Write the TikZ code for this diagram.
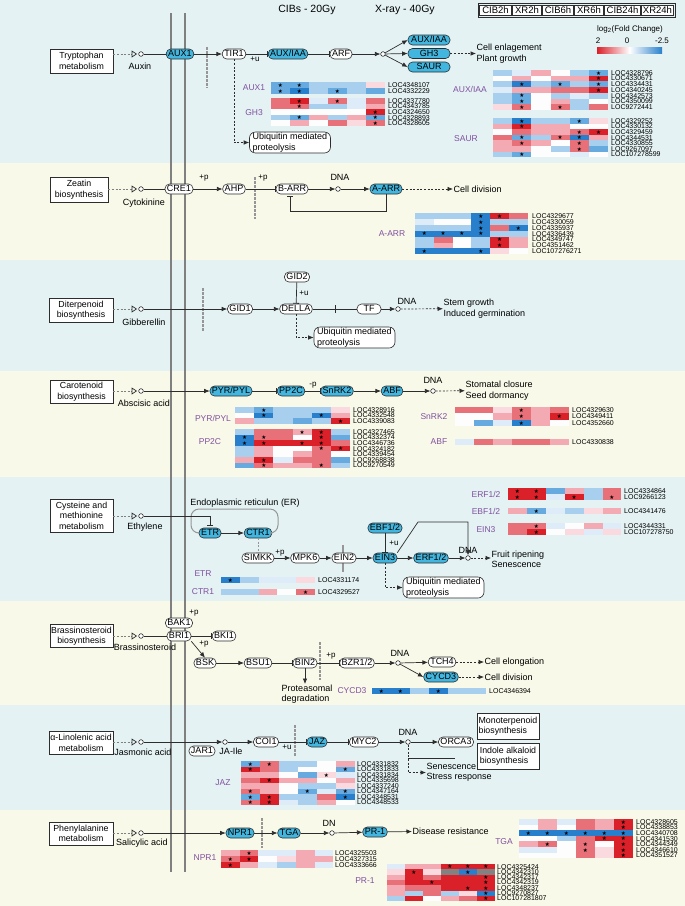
\documentclass[tikz,border=0pt]{standalone}
\usepackage{fontspec}
\setmainfont{Liberation Sans}
\newfontfamily\djv{DejaVu Sans}
\usetikzlibrary{arrows.meta,calc}
\definecolor{bgc}{RGB}{228,242,243}
\definecolor{bgy}{RGB}{248,249,232}
\definecolor{cy}{RGB}{66,182,222}
\definecolor{lc}{RGB}{45,45,45}
\definecolor{pur}{RGB}{128,80,160}
\definecolor{mg}{RGB}{150,150,150}
\definecolor{vg}{RGB}{128,128,128}
\definecolor{r3}{RGB}{218,32,40}
\definecolor{r2}{RGB}{232,112,120}
\definecolor{r1}{RGB}{243,170,178}
\definecolor{r0}{RGB}{250,218,222}
\definecolor{w}{RGB}{253,253,253}
\definecolor{b0}{RGB}{222,235,248}
\definecolor{b1}{RGB}{168,207,238}
\definecolor{b2}{RGB}{102,170,224}
\definecolor{b3}{RGB}{40,128,204}
\definecolor{gy}{RGB}{130,130,130}
\colorlet{R3}{r3}\colorlet{R2}{r2}\colorlet{R1}{r1}\colorlet{R0}{r0}
\colorlet{B3}{b3}\colorlet{B2}{b2}\colorlet{B1}{b1}\colorlet{B0}{b0}
\newcommand\mkst[1]{\expandafter\def\csname hs@#1\endcsname{}}
\mkst{R3}\mkst{R2}\mkst{R1}\mkst{R0}\mkst{B3}\mkst{B2}\mkst{B1}\mkst{B0}
\newcommand\fN{\fontsize{9}{10.5}\selectfont}
\newcommand\fB{\fontsize{8.8}{10.5}\selectfont}
\newcommand\fL{\fontsize{7}{7}\selectfont}
\newcommand\fP{\fontsize{8.5}{9}\selectfont}
\newcommand\fS{\fontsize{8}{9}\selectfont}
\tikzset{
 gene/.style={draw=lc, line width=0.6pt, rounded corners=4.5pt, fill=white, font=\fN, inner xsep=2pt, inner ysep=1pt, text height=6.6pt, text depth=1.4pt},
 cgene/.style={gene, fill=cy},
 pbox/.style={draw=lc, line width=0.6pt, fill=white, font=\fB, align=center, inner sep=1pt},
 ubi/.style={draw=lc, line width=0.6pt, rounded corners=6pt, fill=white, font=\fN, align=left, minimum width=81pt, minimum height=21pt, inner xsep=2pt, inner ysep=1pt},
 dot/.style={circle, draw=lc, line width=0.6pt, fill=white, minimum size=4.6pt, inner sep=0},
 lab/.style={font=\fN, inner sep=0.5pt},
 small/.style={font=\fS, inner sep=0},
 plab/.style={font=\fP, text=pur, inner sep=0},
 loc/.style={font=\fL, inner sep=0, anchor=west},
 ttl/.style={font=\fontsize{10.5}{12}\selectfont, inner sep=0},
 hdr/.style={draw=lc, line width=0.5pt, font=\fontsize{9.5}{10}\selectfont, inner sep=0, minimum height=10pt, fill=white},
 starn/.style={font={\djv\fontsize{5.6}{5.6}\selectfont}, inner sep=0, text=black},
 con/.style={draw=lc, line width=0.7pt},
 act/.style={con, -{Latex[length=5.5pt,width=4.6pt]}},
 inh/.style={con, -{Bar[width=6pt,line width=0.8pt]}},
 dsh/.style={con, dash pattern=on 2pt off 1.6pt},
 dact/.style={dsh, -{Latex[length=5.5pt,width=4.6pt]}},
 sig/.style={draw=vg, line width=0.7pt, dash pattern=on 2pt off 1.6pt, -{Triangle[open,length=5.5pt,width=7pt,line width=0.7pt,color=lc]}, shorten >=1.3pt},
 memb/.style={draw=mg, line width=1.6pt, dash pattern=on 2.5pt off 1.5pt},
 vline/.style={draw=vg, line width=1.3pt},
}
% heatmap: x, ytop, cellw, cellh, labelx, rows, labels
\newcommand\hmap[7]{%
  \foreach \rw [count=\ii] in {#6} {%
    \foreach \cc [count=\jj] in \rw {%
      \fill[\cc] ({#1+(\jj-1)*#3},{#2+(\ii-1)*#4}) rectangle ++({#3+0.05},{#4+0.05});
      \ifcsname hs@\cc\endcsname
        \node[starn] at ({#1+(\jj-0.5)*#3},{#2+(\ii-0.5)*#4+0.3}) {★};
      \fi
    }%
  }%
  \foreach \lab [count=\ii] in {#7} {%
    \node[loc] at (#5,{#2+(\ii-0.5)*#4}) {\lab};
  }%
}
\begin{document}
\begin{tikzpicture}[x=1pt,y=-1pt]
\useasboundingbox (0,0) rectangle (685,906);
% bands
\fill[bgc] (0,0) rectangle (685,163);
\fill[bgy] (0,163) rectangle (685,260);
\fill[bgc] (0,260) rectangle (685,371);
\fill[bgy] (0,371) rectangle (685,477);
\fill[bgc] (0,477) rectangle (685,601);
\fill[bgy] (0,601) rectangle (685,705);
\fill[bgc] (0,705) rectangle (685,810);
\fill[bgy] (0,810) rectangle (685,906);
% membrane lines
\draw[vline] (171,13) -- (171,872);
\draw[vline] (185,13) -- (185,872);
% header
\node[ttl] (t1) at (307,10) {CIBs - 20Gy};
\node[ttl] (t2) at (405,10) {X-ray - 40Gy};
\draw[lc, line width=0.6pt] (478,3) rectangle (675,17);
\foreach \a/\b/\t [count=\k] in {479/512/CIB2h, 512/542/XR2h, 542/574/CIB6h, 574/604/XR6h, 604/641/CIB24h, 641/674/XR24h}
  \node[hdr, minimum width={\b-\a-1.2}] (h\k) at ({(\a+\b)/2},10) {\t};
% legend
\node[small] (lg) at (630,29) {log\textsubscript{2}(Fold Change)};
\node[small] (lg2) at (598,41) {2};
\node[small] (lg0) at (627,41) {0};
\node[small] (lg25) at (662,41) {-2.5};
\shade[left color=r3, right color=b3, middle color=white] (597,47) rectangle (662,53);

% ===== Band 1: Tryptophan
\node[pbox, minimum width=63, minimum height=24] (trp) at (81.5,61) {Tryptophan\\metabolism};
\node[dot] (c1) at (141,54) {};
\node[lab] (auxin) at (140,66) {Auxin};
\draw[memb] (207,47) -- (207,88);
\node[cgene] (aux1) at (180,54) {AUX1};
\node[gene] (tir1) at (234,54) {TIR1};
\node[small] (u1) at (255,59) {+u};
\node[cgene] (auxiaa) at (288,54) {AUX/IAA};
\node[gene] (arf) at (341,54) {ARF};
\node[dot] (d1) at (383,54) {};
\node[cgene, minimum width=42] (tauxiaa) at (429,40) {AUX/IAA};
\node[cgene, minimum width=42] (tgh3) at (429,53.5) {GH3};
\node[cgene, minimum width=42] (tsaur) at (429,67) {SAUR};
\node[lab, anchor=west, align=left] (o1) at (476,53.5) {Cell enlagement\\Plant growth};
\node[ubi] (ub1) at (290,142.5) {Ubiquitin mediated\\proteolysis};
\draw[sig] (trp.east |- c1) -- (c1);
\draw[con] (c1) -- (aux1);
\draw[act] (aux1) -- (tir1);
\draw[inh] (tir1) -- (auxiaa);
\draw[inh] (auxiaa) -- (arf);
\draw[act] (arf) -- (d1);
\draw[act] (d1) -- (tauxiaa.west);
\draw[act] (d1) -- (tgh3.west);
\draw[act] (d1) -- (tsaur.west);
\draw[dact] (tgh3) -- (o1);
\draw[dact] (tir1.south) |- (ub1.west);
\node[plab] (pl-aux1) at (254,88) {AUX1};
\node[plab] (pl-gh3) at (254,113) {GH3};
\hmap{271}{82}{19}{6}{388}{{B2,B2,b1,b1,b1,r0},{B2,B3,b1,B2,b1,b2}}{LOC4348107,LOC4332229}
\hmap{271}{98}{19}{5.6}{388}{{r2,R3,b0,R2,b0,r2},{r2,R2,b1,b1,b0,r1},{w,w,w,w,w,R3},{b1,B2,r1,b1,r1,B2},{w,r1,w,r2,r0,R2}}{LOC4337780,LOC4343785,LOC4324650,LOC4328893,LOC4328605}
\node[plab] (pl-auxiaa) at (470,89) {AUX/IAA};
\hmap{493}{70}{19.2}{5.7}{611}{{b1,b0,r1,w,b1,B2},{w,r1,w,r1,r1,R3},{b1,B3,b1,B2,b1,B2},{b0,r1,r1,r2,r2,R3},{b1,B2,w,b1,b0,b1},{b1,B2,w,r1,b1,w},{r0,R2,w,R2,b1,r2}}{LOC4328796,LOC4330671,LOC4334431,LOC4340245,LOC4342573,LOC4350099,LOC9272441}
\node[plab] (pl-saur) at (466,139) {SAUR};
\hmap{493}{118}{19.2}{5.6}{611}{{b1,B3,b1,b1,B2,r0},{r1,R3,r1,r1,w,w},{w,r2,r1,r1,R2,R3},{r2,B2,b1,R2,B3,r1},{r1,R2,r1,w,R2,b1},{r1,r1,w,b1,R2,b2},{b1,B2,w,w,b0,w}}{LOC4329252,LOC4330132,LOC4329459,LOC4344531,LOC4330855,LOC9267097,LOC107278599}

% ===== Band 2: Zeatin
\node[pbox, minimum width=58, minimum height=25] (zea) at (79,189.5) {Zeatin\\biosynthesis};
\node[dot] (c2) at (141,189) {};
\node[lab] (cyto) at (144,203) {Cytokinine};
\draw[memb] (255,177) -- (255,219);
\node[gene] (cre1) at (179,189) {CRE1};
\node[small] (p2a) at (204,178) {+p};
\node[gene] (ahp) at (234,189) {AHP};
\node[small] (p2b) at (263,178) {+p};
\node[gene] (barr) at (292,189) {B-ARR};
\node[dot] (d2) at (338,189) {};
\node[lab] (dna2) at (340,177) {DNA};
\node[cgene] (aarr) at (386,189) {A-ARR};
\node[lab, anchor=west] (o2) at (453,189) {Cell division};
\coordinate (fb) at (290,211);
\draw[sig] (zea.east |- c2) -- (c2);
\draw[con] (c2) -- (cre1);
\draw[act] (cre1) -- (ahp);
\draw[inh] (ahp) -- (barr);
\draw[act] (barr) -- (d2);
\draw[act] (d2) -- (aarr);
\draw[dact] (aarr) -- (o2);
\draw[inh, shorten >=2pt] (aarr.south) |- (fb) -- (fb |- barr.south);
\node[plab] (pl-aarr) at (392,234) {A-ARR};
\hmap{415}{213}{18.8}{5.9}{532}{{b1,b1,b1,B3,R3,r2},{b0,w,w,B3,b1,b1},{b1,b1,b1,B3,r2,B3},{B3,B3,B3,B3,b1,b1},{b1,r2,w,b1,R3,r1},{b1,r1,w,b1,R3,r1},{B3,b3,b3,B3,r0,w}}{LOC4329677,LOC4330059,LOC4335937,LOC4336439,LOC4349747,LOC4351462,LOC107276271}

% ===== Band 3: Diterpenoid
\node[pbox, minimum width=64, minimum height=24] (dit) at (81,310) {Diterpenoid\\biosynthesis};
\node[dot] (c3) at (141,309) {};
\node[lab] (gib) at (144,322) {Gibberellin};
\draw[memb] (203,288) -- (203,332);
\node[gene] (gid1) at (240,309) {GID1};
\node[gene] (della) at (296,309) {DELLA};
\node[gene] (gid2) at (297,277) {GID2};
\node[small] (u3) at (304,293) {+u};
\node[gene, minimum width=24] (tf) at (369,309) {TF};
\node[dot] (d3) at (398,309) {};
\node[lab] (dna3) at (407,301) {DNA};
\node[lab, anchor=west, align=left] (o3) at (443,308.5) {Stem growth\\Induced germination};
\node[ubi] (ub3) at (354.5,337.5) {Ubiquitin mediated\\proteolysis};
\draw[sig] (dit.east |- c3) -- (c3);
\draw[act] (c3) -- (gid1);
\draw[act] (gid1) -- (della);
\draw[inh] (gid2) -- (della);
\draw[con] (della) -- (tf);
\draw[con, line width=0.8pt] (335,305) -- (335,313);
\draw[act] (tf) -- (d3);
\draw[dact] (d3) -- (o3);
\draw[dact] (della.south) |- (ub3.west);

% ===== Band 4: Carotenoid
\node[pbox, minimum width=63, minimum height=23] (car) at (81.5,391.5) {Carotenoid\\biosynthesis};
\node[dot] (c4) at (141,391) {};
\node[lab] (aba) at (144,403) {Abscisic acid};
\node[cgene] (pyr) at (231,391) {PYR/PYL};
\node[cgene] (pp2c) at (291,391) {PP2C};
\node[small] (m4) at (313,385) {-p};
\node[cgene] (snrk2) at (337,391) {SnRK2};
\node[cgene] (abf) at (392,391) {ABF};
\node[dot] (d4) at (433,391) {};
\node[lab] (dna4) at (433,380) {DNA};
\node[lab, anchor=west, align=left] (o4) at (465,390.5) {Stomatal closure\\Seed dormancy};
\draw[sig] (car.east |- c4) -- (c4);
\draw[act] (c4) -- (pyr);
\draw[inh] (pyr) -- (pp2c);
\draw[inh] (pp2c) -- (snrk2);
\draw[act] (snrk2) -- (abf);
\draw[act] (abf) -- (d4);
\draw[dact] (d4) -- (o4);
\node[plab] (pl-pyr) at (213,418) {PYR/PYL};
\hmap{235}{407}{19.2}{5.5}{353}{{b1,B2,b1,b1,b1,r0},{w,B3,b1,b1,B3,r1},{r1,b1,b1,b2,b1,R3}}{LOC4328916,LOC4332548,LOC4339083}
\node[plab] (pl-pp2c) at (210,442) {PP2C};
\hmap{235}{429}{19.2}{5.6}{353}{{b1,r2,r2,R1,R3,b1},{B3,R2,r2,w,R3,b2},{B3,R3,r3,R3,R3,r2},{b1,r1,w,w,R2,R3},{b1,r1,w,r1,r2,w},{r1,R3,b0,r2,r2,b2},{b2,R2,r1,r1,R2,b1}}{LOC4327465,LOC4332374,LOC4346736,LOC4324182,LOC4339454,LOC9268838,LOC9270549}
\node[plab] (pl-snrk2) at (434,417) {SnRK2};
\hmap{455}{407}{19}{6.3}{572}{{r2,r2,r0,R2,r1,r2},{w,w,r1,R2,r1,R3},{w,b2,b0,B3,r1,w}}{LOC4329630,LOC4349411,LOC4352660}
\node[plab] (pl-abf) at (439,442) {ABF};
\hmap{455}{439}{19}{5.5}{572}{{b0,r2,r1,r2,r2,r1}}{LOC4330838}

% ===== Band 5: Cysteine
\node[pbox, minimum width=63, minimum height=33] (cys) at (81.5,515.5) {Cysteine and\\methionine\\metabolism};
\node[dot] (c5) at (141,516) {};
\node[lab] (eth) at (145,527) {Ethylene};
\node[cgene] (etr) at (210,533) {ETR};
\node[cgene] (ctr1) at (258,533) {CTR1};
\draw[mg, line width=1pt, rounded corners=8pt] (etr.west) -| (191,509) -| (278,533) -- (ctr1.east);
\node[lab] (er) at (245,503) {Endoplasmic reticulun (ER)};
\node[gene] (simkk) at (258,558) {SIMKK};
\node[small] (p5) at (280,553) {+p};
\node[gene] (mpk6) at (305,558) {MPK6};
\draw[mg, line width=2pt] (343,545) -- (343,572);
\node[gene] (ein2) at (344,558) {EIN2};
\node[cgene] (ein3) at (385,558) {EIN3};
\node[cgene] (ebf) at (385,528) {EBF1/2};
\node[small] (u5) at (394,543) {+u};
\node[cgene] (erf) at (431,558) {ERF1/2};
\node[dot] (d5) at (468,558) {};
\node[lab] (dna5) at (468,550) {DNA};
\node[lab, anchor=west, align=left] (o5) at (491,559.5) {Fruit ripening\\Senescence};
\node[ubi] (ub5) at (443.5,587.5) {Ubiquitin mediated\\proteolysis};
\draw[sig] (cys.east |- c5) -- (c5);
\draw[inh, shorten >=2pt] (c5) -| (etr.north);
\draw[act] (etr) -- (ctr1);
\draw[draw=mg, line width=0.8pt, dash pattern=on 2pt off 1.5pt, -{Bar[width=5pt]}] (ctr1.south) -- (simkk.north);
\draw[act] (simkk) -- (mpk6);
\draw[act] (mpk6) -- (ein2);
\draw[act] (ein2) -- (ein3);
\draw[inh] (ebf) -- (ein3);
\draw[act] (ein3) -- (erf);
\draw[act] (erf) -- (d5);
\draw[dact] (d5) -- (o5.west |- d5);
\draw[act] (ein3.north east) -- (418,522) -- (d5.north |- 0,522) -- (d5.north);
\draw[dact] (ein3.south) |- (ub5.west);
\node[plab] (pl-etr) at (203,574) {ETR};
\hmap{221}{577}{18.8}{5.5}{318}{{B3,b1,b0,b0,r0}}{LOC4331174}
\node[plab] (pl-ctr1) at (203,592) {CTR1};
\hmap{221}{589}{18.8}{5.5}{318}{{b1,b1,r1,w,R2}}{LOC4329527}
\node[plab] (pl-erf) at (486,494) {ERF1/2};
\hmap{508}{488}{18.9}{6}{624}{{R3,R3,b2,r1,b1,r2},{R3,R3,b0,R3,b1,R2}}{LOC4334864,LOC9266123}
\node[plab] (pl-ebf) at (486,511) {EBF1/2};
\hmap{508}{508}{18.9}{6}{624}{{r1,B2,b0,b1,r0,r1}}{LOC4341476}
\node[plab] (pl-ein3) at (486,530) {EIN3};
\hmap{508}{523}{18.9}{6}{624}{{r2,R2,b0,w,r1,b0},{r2,R3,w,r0,b0,r0}}{LOC4344331,LOC107278750}

% ===== Band 6: Brassinosteroid
\node[pbox, minimum width=63, minimum height=23] (bra) at (81.5,636) {Brassinosteroid\\biosynthesis};
\node[dot] (c6) at (141,636) {};
\node[lab] (bras) at (145,647) {Brassinosteroid};
\node[gene] (bak1) at (179,623) {BAK1};
\node[small] (p6a) at (194,613) {+p};
\node[gene] (bri1) at (179,636) {BRI1};
\node[gene] (bki1) at (224,636) {BKI1};
\node[gene] (bsk) at (205,663) {BSK};
\node[small] (p6b) at (204,644) {+p};
\node[gene] (bsu1) at (258,663) {BSU1};
\node[gene] (bin2) at (305,663) {BIN2};
\node[lab, align=left, anchor=north] (prot) at (307,684) {Proteasomal\\degradation};
\draw[memb] (320,642) -- (320,680);
\node[small] (p6c) at (331,656) {+p};
\node[gene] (bzr) at (357,663) {BZR1/2};
\node[dot] (d6) at (398,663) {};
\node[lab] (dna6) at (400,653) {DNA};
\node[gene] (tch4) at (442,662) {TCH4};
\node[cgene] (cycd3) at (441,677) {CYCD3};
\node[lab, anchor=west] (o6a) at (484,662) {Cell elongation};
\node[lab, anchor=west] (o6b) at (484,677) {Cell division};
\draw[sig] (bra.east |- c6) -- (c6);
\draw[con] (c6) -- (bri1);
\draw[inh] (bri1) -- (bki1);
\draw[act] (bri1.south east) -- (bsk.north);
\draw[act] (bsk) -- (bsu1);
\draw[inh] (bsu1) -- (bin2);
\draw[act] (bin2.south) -- (prot.north -| bin2.south);
\draw[inh] (bin2) -- (bzr);
\draw[act] (bzr) -- (d6);
\draw[act] (d6) -- (tch4);
\draw[act] (d6) -- (cycd3.west);
\draw[dact] (tch4) -- (o6a);
\draw[dact] (cycd3) -- (o6b);
\node[plab] (pl-cycd3) at (352,691) {CYCD3};
\hmap{372}{688}{19}{5.5}{489}{{B3,B3,b1,B3,b1,b1}}{LOC4346394}

% ===== Band 7: alpha-Linolenic
\node[pbox, minimum width=64, minimum height=23] (lin) at (81,743) {α-Linolenic acid\\metabolism};
\node[dot] (c7) at (141,742) {};
\node[lab] (jas) at (143,752) {Jasmonic acid};
\node[dot] (ja) at (225,742) {};
\node[gene] (jar1) at (202,751) {JAR1};
\node[lab] (jaile) at (231,751) {JA-Ile};
\node[gene] (coi1) at (266,742) {COI1};
\node[small] (u7) at (287,747) {+u};
\draw[memb] (295,725) -- (295,757);
\node[cgene] (jaz) at (317,742) {JAZ};
\node[gene] (myc2) at (364,742) {MYC2};
\node[dot] (d7) at (408,742) {};
\node[lab] (dna7) at (408,732) {DNA};
\node[gene] (orca3) at (456,742) {ORCA3};
\node[pbox, minimum width=62, minimum height=26, align=left] (mono) at (508,726) {Monoterpenoid\\biosynthesis};
\node[pbox, minimum width=62, minimum height=26, align=left] (indo) at (508,756) {Indole alkaloid\\biosynthesis};
\node[lab, anchor=west, align=left] (o7) at (426,772.5) {Senescence\\Stress response};
\draw[sig] (lin.east |- c7) -- (c7);
\draw[act] (c7) -- (ja);
\draw[act] (ja) -- (coi1);
\draw[inh] (coi1) -- (jaz);
\draw[inh] (jaz) -- (myc2);
\draw[act] (myc2) -- (d7);
\draw[act] (d7) -- (orca3);
\draw[con, line width=0.6pt] (d7.center |- 0,758) -- (455,758);
\draw[dact] (d7.south) |- (o7.west);
\node[plab] (pl-jaz) at (223,783) {JAZ};
\hmap{241}{761}{19}{5.5}{357}{{B2,R2,b1,b1,w,r1},{R3,r2,b1,w,w,B2},{r1,r1,w,b2,R0,b0},{r2,R3,r1,r1,w,r1},{r1,r1,w,b1,b1,r0},{R2,r1,w,B2,b0,B2},{B2,R3,b1,b1,r2,B3},{R2,R3,b0,b1,r1,w}}{LOC4331832,LOC4331833,LOC4331834,LOC4335698,LOC4337240,LOC4347164,LOC4348531,LOC4348533}

% ===== Band 8: Phenylalanine
\node[pbox, minimum width=64, minimum height=23] (phe) at (81,833.5) {Phenylalanine\\metabolism};
\node[dot] (c8) at (141,833) {};
\node[lab] (sal) at (142,843) {Salicylic acid};
\node[cgene] (npr1) at (240,833) {NPR1};
\draw[memb] (262,818) -- (262,848);
\node[cgene] (tga) at (289,833) {TGA};
\node[dot] (d8) at (332,833) {};
\node[lab] (dna8) at (329,823) {DN};
\node[cgene] (pr1) at (375,832) {PR-1};
\node[lab, anchor=west] (o8) at (412,831) {Disease resistance};
\draw[sig] (phe.east |- c8) -- (c8);
\draw[act] (c8) -- (npr1);
\draw[act] (npr1) -- (tga);
\draw[act] (tga) -- (d8);
\draw[act] (d8) -- (pr1);
\draw[act] (pr1) -- (o8);
\node[plab] (pl-npr1) at (205,858) {NPR1};
\hmap{221}{850}{18.7}{6}{335}{{r1,R2,b0,b0,r1,b0},{R2,R3,w,r0,r1,r1},{R3,r1,b0,b1,r1,b0}}{LOC4325503,LOC4327315,LOC4333666}
\node[plab] (pl-tga) at (504,842) {TGA};
\hmap{519}{819}{19}{5.6}{636}{{b0,r1,b0,r2,r1,R3},{w,r1,w,r2,r1,R3},{B3,B3,B3,B3,B3,B3},{w,w,b1,r2,R3,R3},{r1,R2,w,R2,w,R3},{b0,b0,w,R2,r0,R3},{w,w,w,r2,r0,R3}}{LOC4328605,LOC4338853,LOC4340708,LOC4341530,LOC4344349,LOC4346610,LOC4351527}
\node[plab] (pl-pr1) at (365,881) {PR-1};
\hmap{387}{864}{18}{5.3}{497}{{b0,r1,r1,R3,R3,R3},{r0,R3,r0,gy,B3,gy},{r1,r3,r2,r3,r3,R3},{r2,r3,R3,r3,r3,R3},{r1,r2,r2,r3,R3,R3},{r1,b1,r2,b1,r0,B3},{b1,r3,w,r1,r2,R3}}{LOC4325424,LOC4342310,LOC4342317,LOC4342319,LOC4348237,LOC9270827,LOC107281807}
\end{tikzpicture}
\end{document}
